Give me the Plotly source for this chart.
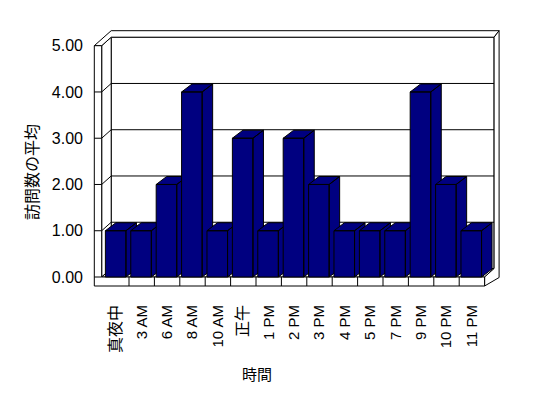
import plotly.graph_objects as go

# ---------------- data ----------------
categories = ["真夜中", "3 AM", "6 AM", "8 AM", "10 AM", "正午", "1 PM", "2 PM",
              "3 PM", "4 PM", "5 PM", "7 PM", "9 PM", "10 PM", "11 PM"]
values = [1, 1, 2, 4, 1, 3, 1, 3, 2, 1, 1, 1, 4, 2, 1]
y_ticks = [0, 1, 2, 3, 4, 5]
y_tick_labels = [f"{v:.2f}" for v in y_ticks]
x_title = "時間"
y_title = "訪問数の平均"

# ---------------- geometry (screen pixels -> data units) ----------------
W, H = 548, 398
PAGE_OFF = 8          # browser default body margin
# desired plot-area edges in screen pixels
PL, PR, PT, PB = 93, 508, 25, 291
ML, MR = PL - PAGE_OFF, W + PAGE_OFF - PR
MT, MB = PT - PAGE_OFF, H + PAGE_OFF - PB

CAT0_PX = 103.6      # left edge of first category on front plane
CAT_W = 25.4         # px per category
ZERO_PY = 277.0      # px of value 0 on front plane
UNIT_H = 46.26       # px per value unit


def ddx(px):
    return px / CAT_W


def ddy(px):
    return px / UNIT_H


def x_of_px(px):
    return (px - CAT0_PX) / CAT_W - 0.5


def y_of_py(py):
    return (ZERO_PY - py) / UNIT_H


n = len(categories)
ymax = max(y_ticks)
xo = x_of_px(94.3)       # outer face of left wall
xi = x_of_px(101.7)      # inner face of left wall
xr = n - 0.5             # right end of floor (front)
Fb = -ddy(9)             # floor slab bottom
Dx, Dy = ddx(9.5), ddy(8.5)   # floor depth
Tx, Ty = ddx(5), ddy(6.5)     # back-wall thickness
bx, by = ddx(10.5), ddy(8)    # bar depth
bl, br = -0.43, 0.38          # bar front extent relative to category centre

NAVY = "#000080"
traces = []


def polys(list_of_polys, fill):
    xs, ys = [], []
    for p in list_of_polys:
        for (a, b) in p + [p[0]]:
            xs.append(a)
            ys.append(b)
        xs.append(None)
        ys.append(None)
    traces.append(go.Scatter(x=xs, y=ys, mode="lines", fill="toself",
                             fillcolor=fill, line=dict(color="black", width=1),
                             hoverinfo="skip", showlegend=False))


def segs(list_of_segs):
    xs, ys = [], []
    for (a, b) in list_of_segs:
        xs += [a[0], b[0], None]
        ys += [a[1], b[1], None]
    traces.append(go.Scatter(x=xs, y=ys, mode="lines",
                             line=dict(color="black", width=1),
                             hoverinfo="skip", showlegend=False))


# back wall inner face
polys([[(xi + Dx, Dy), (xr + Dx, Dy), (xr + Dx, ymax + Dy), (xi + Dx, ymax + Dy)]], "white")
# left wall inner face
polys([[(xi, 0), (xi, ymax), (xi + Dx, ymax + Dy), (xi + Dx, Dy)]], "white")
# floor top
polys([[(xi, 0), (xr, 0), (xr + Dx, Dy), (xi + Dx, Dy)]], "white")
# gridlines on back wall + left wall
grid = []
for v in y_ticks[1:-1]:
    grid.append(((xi + Dx, v + Dy), (xr + Dx, v + Dy)))
    grid.append(((xi, v), (xi + Dx, v + Dy)))
segs(grid)
# top face of walls
polys([[(xo, ymax), (xi + Dx, ymax + Dy + Ty), (xr + Dx + Tx, ymax + Dy + Ty),
        (xr + Dx, ymax + Dy), (xi + Dx, ymax + Dy), (xi, ymax)]], "white")
# right side (floor + back wall)
polys([[(xr, 0), (xr, Fb), (xr + Dx + Tx, Fb + Dy), (xr + Dx + Tx, ymax + Dy + Ty),
        (xr + Dx, ymax + Dy), (xr + Dx, Dy)]], "white")
# front L-shaped face of left wall + floor
polys([[(xo, Fb), (xr, Fb), (xr, 0), (xi, 0), (xi, ymax), (xo, ymax)]], "white")
front_lines = [((xo, v), (xi, v)) for v in y_ticks[:-1]]
front_lines += [((c - 0.5, Fb), (c - 0.5, 0)) for c in range(1, n)]
segs(front_lines)

# bars (front, top, side faces computed from values)
for c, v in enumerate(values):
    L, R = c + bl, c + br
    front = [(L, 0), (R, 0), (R, v), (L, v)]
    top = [(L, v), (R, v), (R + bx, v + by), (L + bx, v + by)]
    side = [(R, 0), (R + bx, by), (R + bx, v + by), (R, v)]
    polys([side, top, front], NAVY)

fig = go.Figure(traces)

FONT = "Liberation Sans, Arial, Noto Sans CJK JP"


def tick_label(s):
    # CJK labels drawn slightly larger, as in the original
    if any(ord(ch) > 0x2E80 for ch in s):
        return f'<span style="font-size:16px;fill:black;color:black">{s}</span>'
    return s


plot_w = PR - PL
plot_h = PB - PT

fig.update_layout(
    width=W, height=H,
    margin=dict(l=ML, r=MR, t=MT, b=MB, pad=0, autoexpand=False),
    paper_bgcolor="white", plot_bgcolor="white",
    font=dict(family=FONT, color="black", size=14),
    showlegend=False,
    xaxis=dict(range=[x_of_px(PL), x_of_px(PR)], tickmode="array",
               tickvals=list(range(n)), ticktext=[tick_label(s) for s in categories],
               tickangle=-90,
               ticks="", showgrid=False, zeroline=False, showline=False,
               tickfont=dict(size=15, family=FONT, color="black"), ticklabelstandoff=10,
               fixedrange=True, automargin=False),
    yaxis=dict(range=[y_of_py(PB), y_of_py(PT)], tickmode="array",
               tickvals=y_ticks, ticktext=y_tick_labels,
               ticks="", showgrid=False, zeroline=False, showline=False,
               tickfont=dict(size=16, family=FONT, color="black"), ticklabelstandoff=9,
               fixedrange=True, automargin=False),
    annotations=[
        dict(text=y_title, xref="paper", yref="paper",
             x=(31 - PL) / plot_w, y=(PB - 172) / plot_h,
             xanchor="center", yanchor="middle", textangle=-90, showarrow=False,
             font=dict(size=16, family="Noto Sans CJK JP", color="black")),
        dict(text=x_title, xref="paper", yref="paper",
             x=(257 - PL) / plot_w, y=(PB - 373) / plot_h,
             xanchor="center", yanchor="middle", showarrow=False,
             font=dict(size=15, family="Noto Sans CJK JP", color="black")),
    ],
)

fig.write_html("out.html")
